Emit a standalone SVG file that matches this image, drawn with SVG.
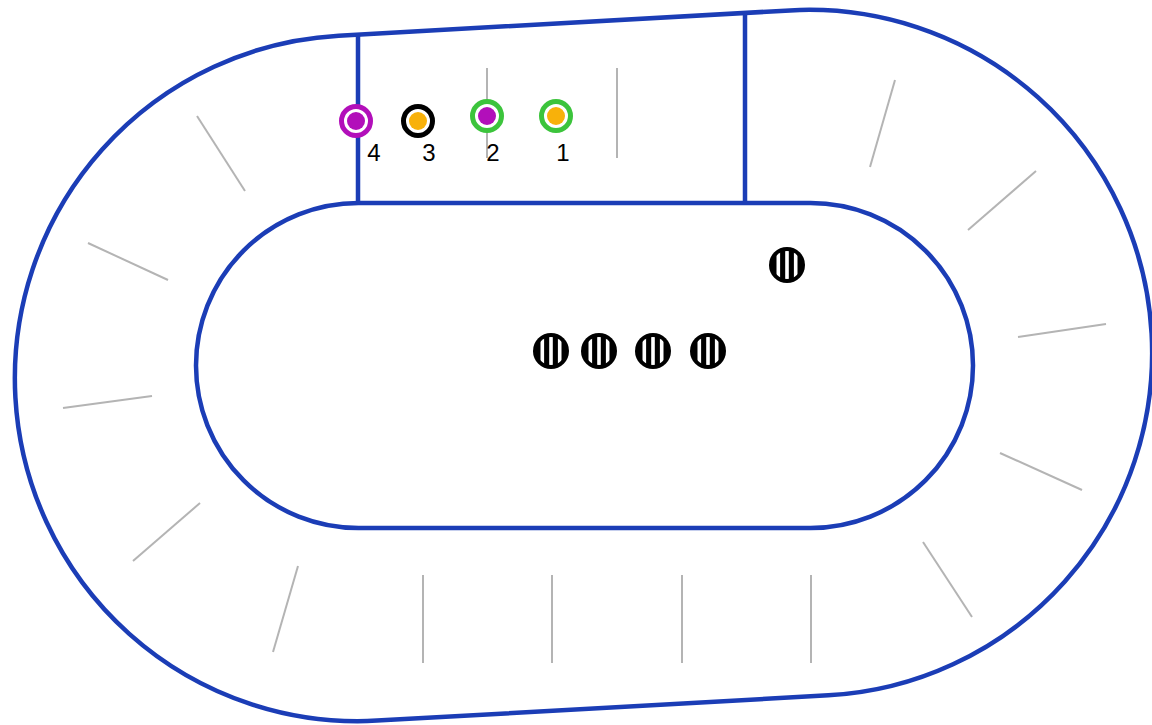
<svg xmlns="http://www.w3.org/2000/svg" width="1152" height="725" viewBox="0 0 1152 725">
<style>
.track{fill:none;stroke:#1b3db6;stroke-width:4.5}
.tick{stroke:#b4b4b4;stroke-width:2;fill:none}
.lbl{font-family:"Liberation Sans",Arial,sans-serif;font-size:24px;fill:#000;text-anchor:middle}
.ring{fill:#fff;stroke-width:5}
</style>
<defs>
<clipPath id="ballclip"><circle cx="0" cy="0" r="14"/></clipPath>
<g id="ball">
<circle cx="0" cy="0" r="18" fill="#000"/>
<g clip-path="url(#ballclip)" fill="#fff">
<rect x="-10.5" y="-18" width="3.6" height="36"/>
<rect x="-1.8" y="-18" width="3.6" height="36"/>
<rect x="6.9" y="-18" width="3.6" height="36"/>
</g>
</g>
</defs>
<rect width="1152" height="725" fill="#fff"/>
<g id="track">
<rect class="track" x="14.5" y="22.5" width="1138" height="686" rx="343" ry="343" transform="rotate(-3.2 583.5 365.5)"/>
<rect class="track" x="196" y="203" width="777" height="325" rx="162.5" ry="162.5"/>
<line class="track" x1="358" y1="34" x2="358" y2="203"/>
<line class="track" x1="745" y1="13" x2="745" y2="203"/>
</g>
<g id="ticks">
<line class="tick" x1="487" y1="68" x2="487" y2="158"/>
<line class="tick" x1="617" y1="68" x2="617" y2="158"/>
<line class="tick" x1="197" y1="116" x2="245" y2="191"/>
<line class="tick" x1="88" y1="243" x2="168" y2="280"/>
<line class="tick" x1="63" y1="408" x2="152" y2="396"/>
<line class="tick" x1="133" y1="561" x2="200" y2="503"/>
<line class="tick" x1="273" y1="652" x2="298" y2="566"/>
<line class="tick" x1="423" y1="575" x2="423" y2="663"/>
<line class="tick" x1="552" y1="575" x2="552" y2="663"/>
<line class="tick" x1="682" y1="575" x2="682" y2="663"/>
<line class="tick" x1="811" y1="575" x2="811" y2="663"/>
<line class="tick" x1="923" y1="542" x2="972" y2="617"/>
<line class="tick" x1="1000" y1="453" x2="1082" y2="490"/>
<line class="tick" x1="1018" y1="337" x2="1106" y2="324"/>
<line class="tick" x1="968" y1="230" x2="1036" y2="171"/>
<line class="tick" x1="870" y1="167" x2="895" y2="80"/>
</g>
<g id="runner4">
<circle class="ring" cx="356" cy="121" r="14.5" stroke="#b20fba"/>
<circle cx="356" cy="121" r="9" fill="#b20fba"/>
<text class="lbl" x="374" y="161">4</text>
</g>
<g id="runner3">
<circle class="ring" cx="418" cy="121" r="14.5" stroke="#000"/>
<circle cx="418" cy="121" r="9" fill="#f8b10a"/>
<text class="lbl" x="429" y="161">3</text>
</g>
<g id="runner2">
<circle class="ring" cx="487" cy="116" r="14.5" stroke="#3cc43c"/>
<circle cx="487" cy="116" r="9" fill="#b20fba"/>
<text class="lbl" x="493" y="161">2</text>
</g>
<g id="runner1">
<circle class="ring" cx="556" cy="116" r="14.5" stroke="#3cc43c"/>
<circle cx="556" cy="116" r="9" fill="#f8b10a"/>
<text class="lbl" x="563" y="161">1</text>
</g>
<g id="ball1"><use href="#ball" x="787" y="265"/></g>
<g id="ball2"><use href="#ball" x="551" y="351"/></g>
<g id="ball3"><use href="#ball" x="599" y="351"/></g>
<g id="ball4"><use href="#ball" x="653" y="351"/></g>
<g id="ball5"><use href="#ball" x="708" y="351"/></g>
</svg>
